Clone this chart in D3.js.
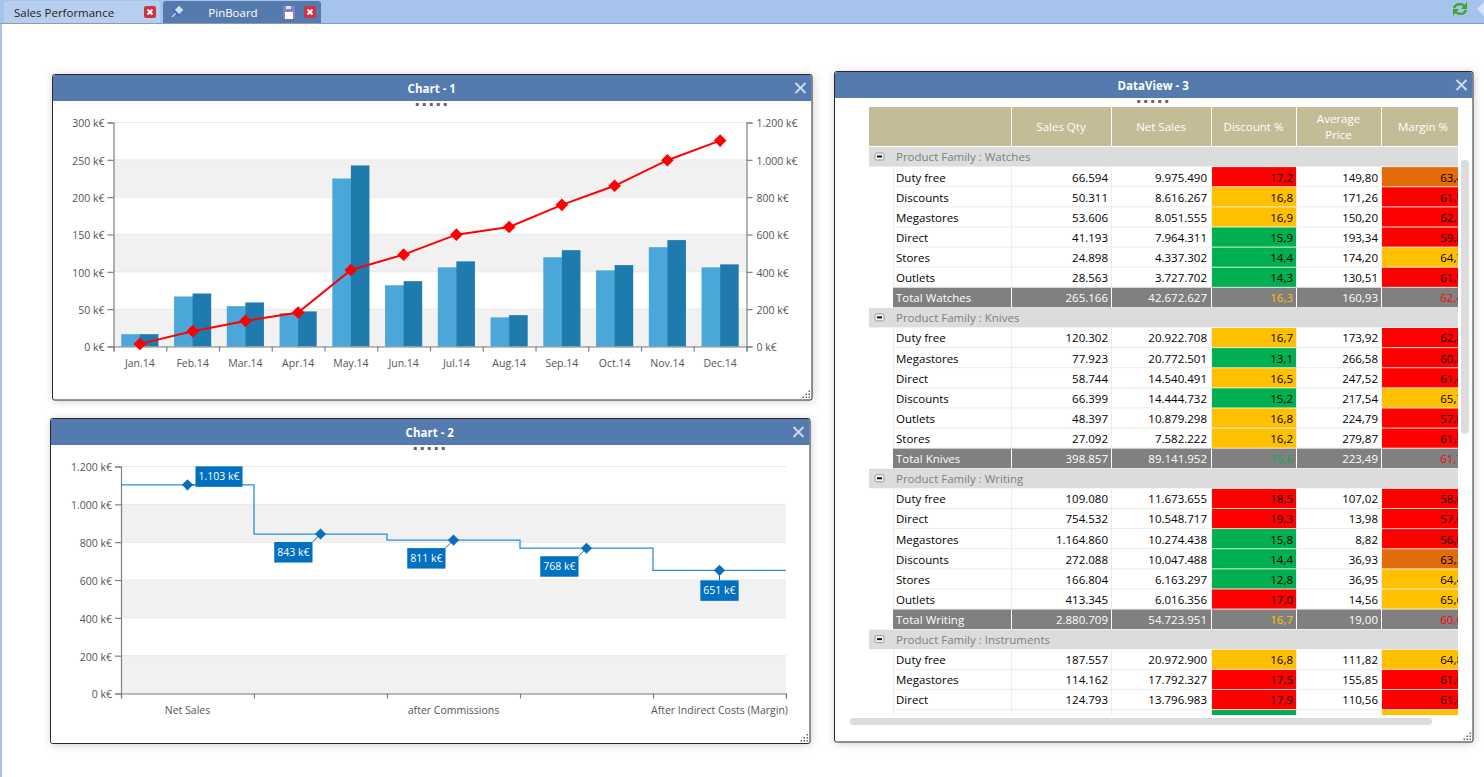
<!DOCTYPE html>
<html>
<head>
<meta charset="utf-8">
<title>PinBoard</title>
<script src="https://cdn.jsdelivr.net/npm/d3@7"></script>
<style>
  html, body { margin: 0; padding: 0; background: #fff; overflow: hidden; }
  svg { display: block; font-family: "Open Sans", "Noto Sans", sans-serif; }
  .axis text { fill: #555; font-size: 10.5px; }
  .axis line, .axis path { stroke: #808080; }
  .cell { font-size: 11.5px; }
</style>
</head>
<body>
<div id="page"></div>
<script>
// Chart 1
const months = ["Jan.14", "Feb.14", "Mar.14", "Apr.14", "May.14", "Jun.14", "Jul.14", "Aug.14", "Sep.14", "Oct.14", "Nov.14", "Dec.14"];
const salesPrior = [16.5, 67, 54, 44.6, 225, 82, 106, 39, 119.5, 102, 133, 106];
const salesCurrent = [16.5, 71, 59, 47, 242.5, 87.5, 114, 42, 129, 109, 142.5, 110];
const salesCumulative = [14, 82, 137, 182, 410, 492, 599, 640, 759, 861, 998, 1103];
const leftTicks = [0, 50, 100, 150, 200, 250, 300];
const rightTicks = [0, 200, 400, 600, 800, 1000, 1200];

// Chart 2
const stepLabels = ["Net Sales", "", "after Commissions", "", "After Indirect Costs (Margin)"];
const stepValues = [1103, 843, 811, 768, 651];

// DataView
const columnNames = ["", "Sales Qty", "Net Sales", "Discount %", "Average|Price", "Margin %"];
const familyNames = ["Watches", "Knives", "Writing", "Instruments"];
const watchesRows = [
  ["Duty free", 66594, 9975490, 17.2, 149.80, 63.4],
  ["Discounts", 50311, 8616267, 16.8, 171.26, 61.9],
  ["Megastores", 53606, 8051555, 16.9, 150.20, 62.3],
  ["Direct", 41193, 7964311, 15.9, 193.34, 59.8],
  ["Stores", 24898, 4337302, 14.4, 174.20, 64.7],
  ["Outlets", 28563, 3727702, 14.3, 130.51, 61.9],
  ["Total Watches", 265166, 42672627, 16.3, 160.93, 62.4]
];
const knivesRows = [
  ["Duty free", 120302, 20922708, 16.7, 173.92, 62.8],
  ["Megastores", 77923, 20772501, 13.1, 266.58, 60.8],
  ["Direct", 58744, 14540491, 16.5, 247.52, 61.4],
  ["Discounts", 66399, 14444732, 15.2, 217.54, 65.7],
  ["Outlets", 48397, 10879298, 16.8, 224.79, 57.6],
  ["Stores", 27092, 7582222, 16.2, 279.87, 61.5],
  ["Total Knives", 398857, 89141952, 15.6, 223.49, 61.7]
];
const writingRows = [
  ["Duty free", 109080, 11673655, 18.5, 107.02, 58.6],
  ["Direct", 754532, 10548717, 19.3, 13.98, 57.6],
  ["Megastores", 1164860, 10274438, 15.8, 8.82, 56.6],
  ["Discounts", 272088, 10047488, 14.4, 36.93, 63.3],
  ["Stores", 166804, 6163297, 12.8, 36.95, 64.4],
  ["Outlets", 413345, 6016356, 17.0, 14.56, 65.6],
  ["Total Writing", 2880709, 54723951, 16.7, 19.00, 60.6]
];
const instrumentsRows = [
  ["Duty free", 187557, 20972900, 16.8, 111.82, 64.8],
  ["Megastores", 114162, 17792327, 17.5, 155.85, 61.6],
  ["Direct", 124793, 13796983, 17.9, 110.56, 61.4],
  ["Discounts", 98000, 12500000, 15.0, 127.55, 64.5]
];

const locale = d3.formatLocale({ decimal: ",", thousands: ".", grouping: [3], currency: ["", "€"] });
const kEuro = (d) => `${locale.format(",d")(d)} k€`;

const HEADER = "#547aae";
const BAND = "#f1f1f1";
const GRID = "#e9e9e9";
const RED = "#ff0000";
const ORANGE = "#e36c0a";
const AMBER = "#ffc000";
const GREEN = "#00b050";

const discountColor = (d) => (d >= 17 ? RED : d >= 16 ? AMBER : GREEN);
const marginColor = (d) => (d < 63 ? RED : d < 64 ? ORANGE : AMBER);

const svg = d3.select("#page").append("svg").attr("width", 1484).attr("height", 777);

const defs = svg.append("defs");
const shadow = defs.append("filter").attr("id", "shadow")
  .attr("x", "-5%").attr("y", "-5%").attr("width", "110%").attr("height", "110%");
shadow.append("feDropShadow").attr("dx", 1).attr("dy", 1).attr("stdDeviation", 4)
  .attr("flood-color", "#000").attr("flood-opacity", 0.18);
defs.append("clipPath").attr("id", "table-clip").append("rect")
  .attr("x", 869).attr("y", 107).attr("width", 589).attr("height", 608);

drawChrome();
const chart1 = drawPanel(52, 74, 759.5, 325.5, "Chart - 1");
const chart2 = drawPanel(50, 418, 759.5, 325, "Chart - 2");
const table = drawPanel(834, 71, 638.5, 670.5, "DataView - 3");
drawChartOne(chart1);
drawChartTwo(chart2);
drawTable(table);

// Top tab strip, tabs and their little icons
function drawChrome() {
  svg.append("rect").attr("width", 1484).attr("height", 23).attr("fill", "#a5c3ec");
  svg.append("rect").attr("y", 23).attr("width", 1484).attr("height", 1).attr("fill", "#8c9bb0");
  svg.append("rect").attr("y", 24).attr("width", 2).attr("height", 753).attr("fill", "#a5c3ec");

  svg.append("path").attr("d", "M4,23V4a3,3 0 0 1 3,-3H157a3,3 0 0 1 3,3V23Z").attr("fill", "#b6cfef");
  svg.append("path").attr("d", "M163,23V4a3,3 0 0 1 3,-3H318a3,3 0 0 1 3,3V23Z").attr("fill", HEADER);
  svg.append("text").attr("x", 14).attr("y", 17).attr("font-size", 11.5).attr("fill", "#222").text("Sales Performance");
  svg.append("text").attr("x", 233).attr("y", 17).attr("font-size", 11.5).attr("fill", "#fff")
    .attr("text-anchor", "middle").text("PinBoard");

  closeButton(150, 12);
  closeButton(310, 12);

  // pin
  const pin = svg.append("g").attr("transform", "translate(177,12) rotate(45)");
  pin.append("rect").attr("x", -3).attr("y", -6).attr("width", 6).attr("height", 7).attr("fill", "#cfe0fb");
  pin.append("rect").attr("x", -5).attr("y", 0).attr("width", 10).attr("height", 2).attr("fill", "#3f63d8");
  pin.append("line").attr("y1", 2).attr("y2", 7).attr("stroke", "#dfe8f8").attr("stroke-width", 1.2);

  // save
  svg.append("rect").attr("x", 283).attr("y", 6).attr("width", 12).attr("height", 13).attr("rx", 1).attr("fill", "#8a7fc8");
  svg.append("rect").attr("x", 285).attr("y", 12).attr("width", 8).attr("height", 7).attr("fill", "#fff");
  svg.append("rect").attr("x", 286).attr("y", 6).attr("width", 5).attr("height", 3).attr("fill", "#e4e0f6");

  // refresh
  const refresh = svg.append("g").attr("fill", "none").attr("stroke", "#3fa535").attr("stroke-width", 2.4);
  refresh.append("path").attr("d", "M1454,8a6,5.5 0 0 1 11,-1");
  refresh.append("path").attr("d", "M1466,10a6,5.5 0 0 1 -11,1");
  svg.append("path").attr("d", "M1467,2V9H1461Z").attr("fill", "#3fa535");
  svg.append("path").attr("d", "M1453,16V9H1459Z").attr("fill", "#3fa535");
  svg.append("path").attr("d", "M1484,2L1477,9L1484,16Z").attr("fill", "#d5e3fa");
}

function closeButton(cx, cy) {
  svg.append("rect").attr("x", cx - 6).attr("y", cy - 6).attr("width", 12).attr("height", 12).attr("rx", 2).attr("fill", "#d0323f");
  svg.append("path").attr("d", `M${cx - 2.5},${cy - 2.5}L${cx + 2.5},${cy + 2.5}M${cx + 2.5},${cy - 2.5}L${cx - 2.5},${cy + 2.5}`)
    .attr("stroke", "#fff").attr("stroke-width", 2);
}

// Window frame: shadow, blue title bar, close cross, drag dots, resize grip
function drawPanel(x, y, w, h, title) {
  const g = svg.append("g");
  g.append("rect").attr("x", x + 0.5).attr("y", y + 0.5).attr("width", w).attr("height", h).attr("rx", 2)
    .attr("fill", "#fff").attr("stroke", "#2b2b2b").attr("filter", "url(#shadow)");
  g.append("path").attr("d", `M${x + 1},${y + 27}V${y + 3}a2,2 0 0 1 2,-2H${x + w - 2}a2,2 0 0 1 2,2V${y + 27}Z`).attr("fill", HEADER);
  g.append("text").attr("x", x + w / 2).attr("y", y + 18.5).attr("text-anchor", "middle")
    .attr("fill", "#fff").attr("font-size", 11.5).attr("font-weight", 700).text(title);
  const cx = x + w - 11;
  const cy = y + 14;
  g.append("path").attr("d", `M${cx - 5},${cy - 5}L${cx + 5},${cy + 5}M${cx + 5},${cy - 5}L${cx - 5},${cy + 5}`)
    .attr("stroke", "#d3dded").attr("stroke-width", 1.8);
  g.selectAll("rect.dot").data(d3.range(5)).enter().append("rect").attr("class", "dot")
    .attr("x", (d) => x + w / 2 - 16 + d * 7).attr("y", y + 29).attr("width", 3).attr("height", 3).attr("fill", "#666");
  const grip = [[8, 2], [5, 5], [8, 5], [2, 8], [5, 8], [8, 8]];
  g.selectAll("rect.grip").data(grip).enter().append("rect").attr("class", "grip")
    .attr("x", (d) => x + w - 10 + d[0] - 1).attr("y", (d) => y + h - 11 + d[1])
    .attr("width", 1.5).attr("height", 1.5).attr("fill", "#666");
  return g;
}

// Alternating grey bands plus horizontal grid lines
function drawBands(g, yScale, ticks, x0, x1) {
  g.selectAll("rect.band").data(d3.pairs(ticks).filter((d, i) => i % 2 === 0)).enter().append("rect")
    .attr("class", "band").attr("x", x0).attr("width", x1 - x0)
    .attr("y", (d) => yScale(d[1])).attr("height", (d) => yScale(d[0]) - yScale(d[1])).attr("fill", BAND);
  g.selectAll("line.grid").data(ticks).enter().append("line")
    .attr("class", "grid").attr("x1", x0).attr("x2", x1)
    .attr("y1", (d) => yScale(d)).attr("y2", (d) => yScale(d)).attr("stroke", GRID);
}

function styleAxis(sel) {
  sel.attr("class", "axis").style("font-family", "inherit");
  sel.selectAll("path, line").attr("stroke-width", 1.2);
  sel.selectAll("text").attr("dy", function () {
    return d3.select(this).attr("dy") === "0.32em" ? "0.42em" : d3.select(this).attr("dy");
  });
}

function drawChartOne(g) {
  const x0 = 113.5, x1 = 746.5, yTop = 122.5, yBottom = 346.5;
  const x = d3.scaleBand().domain(months).range([x0, x1]).paddingInner(0.296).paddingOuter(0.148);
  const xEdges = d3.scaleLinear().domain([0, months.length]).range([x0, x1]);
  const y = d3.scaleLinear().domain([0, 300]).range([yBottom, yTop]);
  const yCum = d3.scaleLinear().domain([0, 1200]).range([yBottom, yTop]);

  drawBands(g, y, leftTicks, x0, x1);

  g.selectAll("rect.prior").data(months).enter().append("rect").attr("class", "prior")
    .attr("x", (d) => x(d)).attr("width", x.bandwidth() / 2 + 0.5)
    .attr("y", (d, i) => y(salesPrior[i])).attr("height", (d, i) => yBottom - y(salesPrior[i]))
    .attr("fill", "#4ba7d9");
  g.selectAll("rect.current").data(months).enter().append("rect").attr("class", "current")
    .attr("x", (d) => x(d) + x.bandwidth() / 2).attr("width", x.bandwidth() / 2)
    .attr("y", (d, i) => y(salesCurrent[i])).attr("height", (d, i) => yBottom - y(salesCurrent[i]))
    .attr("fill", "#1f7bad");

  g.append("g").attr("transform", `translate(${x0},0)`)
    .call(d3.axisLeft(y).tickValues(leftTicks).tickFormat(kEuro).tickSize(6).tickPadding(3)).call(styleAxis);
  g.append("g").attr("transform", `translate(${x1},0)`)
    .call(d3.axisRight(yCum).tickValues(rightTicks).tickFormat(kEuro).tickSize(6).tickPadding(4)).call(styleAxis);
  g.append("g").attr("transform", `translate(0,${yBottom})`)
    .call(d3.axisBottom(xEdges).ticks(months.length).tickFormat("").tickSize(5)).call(styleAxis);
  const labels = g.append("g").attr("transform", `translate(0,${yBottom})`)
    .call(d3.axisBottom(x).tickSize(0).tickPadding(13)).call(styleAxis);
  labels.select(".domain").remove();

  const cx = (d, i) => x(months[i]) + x.bandwidth() / 2;
  const line = d3.line().x(cx).y((d) => yCum(d));
  g.append("path").attr("d", line(salesCumulative)).attr("fill", "none").attr("stroke", RED).attr("stroke-width", 2);
  g.selectAll("path.marker").data(salesCumulative).enter().append("path").attr("class", "marker")
    .attr("d", d3.symbol(d3.symbolSquare, 80))
    .attr("transform", (d, i) => `translate(${cx(d, i)},${yCum(d)}) rotate(45)`).attr("fill", RED);
}

function drawChartTwo(g) {
  const x0 = 121, x1 = 786, yTop = 466.5, yBottom = 693.5;
  const idx = d3.range(stepLabels.length);
  const x = d3.scaleBand().domain(idx).range([x0, x1]);
  const xEdges = d3.scaleLinear().domain([0, idx.length]).range([x0, x1]);
  const y = d3.scaleLinear().domain([0, 1200]).range([yBottom, yTop]);
  const cx = (i) => x(i) + x.bandwidth() / 2;

  drawBands(g, y, rightTicks, x0, x1);

  g.append("g").attr("transform", `translate(${x0},0)`)
    .call(d3.axisLeft(y).tickValues(rightTicks).tickFormat(kEuro).tickSize(6).tickPadding(3)).call(styleAxis);
  g.append("g").attr("transform", `translate(0,${yBottom})`)
    .call(d3.axisBottom(xEdges).ticks(idx.length).tickFormat("").tickSize(5)).call(styleAxis);
  const labels = g.append("g").attr("transform", `translate(0,${yBottom})`)
    .call(d3.axisBottom(x).tickFormat((i) => stepLabels[i]).tickSize(0).tickPadding(13)).call(styleAxis);
  labels.select(".domain").remove();

  const stepPoints = [[x0, stepValues[0]]]
    .concat(stepValues.map((v, i) => [cx(i), v]))
    .concat([[x1, stepValues[stepValues.length - 1]]]);
  const line = d3.line().x((d) => d[0]).y((d) => y(d[1])).curve(d3.curveStep);
  g.append("path").attr("d", line(stepPoints)).attr("fill", "none").attr("stroke", "#2a8fdc").attr("stroke-width", 1.3);

  // where each value box sits relative to its diamond
  const boxPlacement = [
    { side: "right", dy: -18.5 },
    { side: "left", dy: 8 },
    { side: "left", dy: 8 },
    { side: "left", dy: 8 },
    { side: "center", dy: 10 }
  ];
  stepValues.forEach((v, i) => {
    const px = cx(i), py = y(v);
    const place = boxPlacement[i];
    const item = g.append("g");
    const text = item.append("text").attr("font-size", 10.5).attr("fill", "#fff").text(kEuro(v));
    const w = text.node().getComputedTextLength() + 6;
    const bx = place.side === "right" ? px + 8 : place.side === "left" ? px - 8 - w : px - w / 2;
    const by = py + place.dy;
    item.insert("line", "text").attr("x1", px).attr("y1", py)
      .attr("x2", place.side === "left" ? bx + w : place.side === "right" ? bx : px)
      .attr("y2", place.side === "right" ? py : by).attr("stroke", "#0a6ebd");
    item.insert("rect", "text").attr("x", bx).attr("y", by).attr("width", w).attr("height", 20.5).attr("fill", "#0070c0");
    text.attr("x", bx + 3).attr("y", by + 14);
    item.append("path").attr("d", d3.symbol(d3.symbolSquare, 62))
      .attr("transform", `translate(${px},${py}) rotate(45)`).attr("fill", "#0a6ebd");
  });
}

function drawTable(g) {
  const edges = [893, 1011, 1111, 1211, 1296, 1381, 1470];
  const rightPad = [0, 3, 4, 3, 3, 7];
  const yRow = d3.scaleLinear().domain([0, 1]).range([147, 167.11]);
  const qtyFormat = locale.format(",d");
  const d1 = locale.format(".1f");
  const d2 = locale.format(".2f");
  const rowFormats = [String, qtyFormat, qtyFormat, d1, d2, d1];

  // header
  const head = g.append("g");
  head.append("rect").attr("x", 869).attr("y", 107).attr("width", 589).attr("height", 39).attr("fill", "#c4bc96");
  columnNames.forEach((name, c) => {
    const cx = c === 0 ? 0 : (edges[c] + Math.min(edges[c + 1], 1458 + 7)) / 2;
    name.split("|").forEach((part, k, all) => {
      head.append("text").attr("x", cx).attr("y", 130.5 + (k - (all.length - 1) / 2) * 16)
        .attr("text-anchor", "middle").attr("fill", "#fff").attr("font-size", 11.5).text(part);
    });
    if (c > 0) {
      head.append("line").attr("x1", edges[c] + 0.5).attr("x2", edges[c] + 0.5).attr("y1", 107).attr("y2", 146)
        .attr("stroke", "#fff");
    }
  });

  const body = g.append("g").attr("clip-path", "url(#table-clip)");
  let rowIndex = 0;
  [watchesRows, knivesRows, writingRows, instrumentsRows].forEach((rows, f) => {
    // family group row
    const gy = yRow(rowIndex);
    body.append("rect").attr("x", 869).attr("y", gy).attr("width", 589).attr("height", 19.5).attr("fill", "#dcdcdc");
    body.append("text").attr("x", 896).attr("y", gy + 14).attr("font-size", 11.5).attr("fill", "#808080")
      .text(`Product Family : ${familyNames[f]}`);
    body.append("rect").attr("x", 875).attr("y", gy + 6).attr("width", 9).attr("height", 7).attr("rx", 1.5)
      .attr("fill", "#f4f4f4").attr("stroke", "#999");
    body.append("rect").attr("x", 877).attr("y", gy + 8.5).attr("width", 5).attr("height", 2).attr("fill", "#111");
    rowIndex += 1;

    rows.forEach((row) => {
      const ry = yRow(rowIndex);
      const isTotal = row[0].startsWith("Total");
      if (isTotal) {
        body.append("rect").attr("x", 893).attr("y", ry).attr("width", 565).attr("height", 19.5).attr("fill", "#808080");
      } else {
        body.append("line").attr("x1", 893).attr("x2", 1458).attr("y1", ry + 19.6).attr("y2", ry + 19.6).attr("stroke", "#ececec");
        body.append("line").attr("x1", 893.5).attr("x2", 893.5).attr("y1", ry).attr("y2", ry + 20).attr("stroke", "#ececec");
      }
      row.forEach((value, c) => {
        if (c > 0) {
          body.append("line").attr("x1", edges[c] + 0.5).attr("x2", edges[c] + 0.5).attr("y1", ry).attr("y2", ry + 20)
            .attr("stroke", isTotal ? "#fff" : "#ececec");
        }
        let textColor = isTotal ? "#fff" : "#000";
        const scoreColor = c === 3 ? discountColor(value) : c === 5 ? marginColor(value) : null;
        if (scoreColor && isTotal) textColor = scoreColor;
        if (scoreColor && !isTotal) {
          body.append("rect").attr("x", edges[c] + 1).attr("y", ry).attr("width", edges[c + 1] - edges[c] - 1)
            .attr("height", 19.2).attr("fill", scoreColor);
        }
        const t = body.append("text").attr("class", "cell").attr("y", ry + 14.5).attr("fill", textColor)
          .text(rowFormats[c](value));
        if (c === 0) t.attr("x", 896);
        else t.attr("x", edges[c + 1] - rightPad[c]).attr("text-anchor", "end");
      });
      rowIndex += 1;
    });
  });

  // scrollbars
  g.append("rect").attr("x", 1461).attr("y", 160).attr("width", 8).attr("height", 274).attr("rx", 4).attr("fill", "#dcdcdc");
  g.append("rect").attr("x", 850).attr("y", 718).attr("width", 582).attr("height", 7).attr("rx", 3.5).attr("fill", "#dcdcdc");
}
</script>
</body>
</html>
